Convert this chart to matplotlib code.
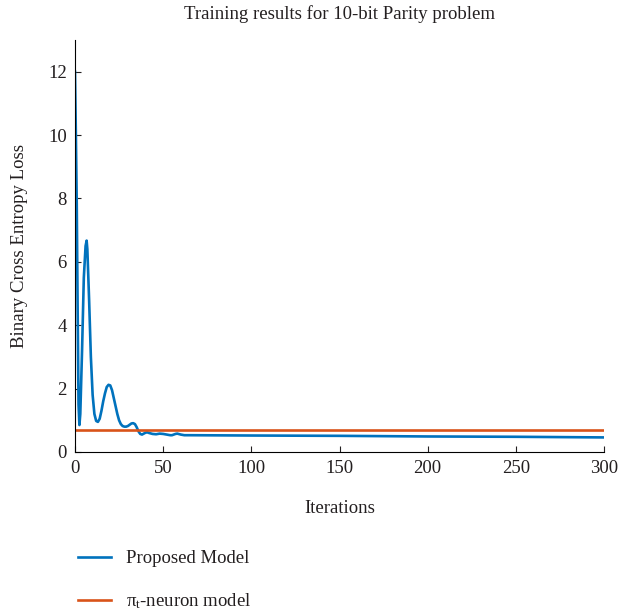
import numpy as np
import matplotlib
matplotlib.use('Agg')
import matplotlib.pyplot as plt

plt.rcParams['font.family'] = ['Liberation Serif', 'DejaVu Serif']
plt.rcParams['mathtext.fontset'] = 'custom'
plt.rcParams['mathtext.rm'] = 'Liberation Serif'
plt.rcParams['mathtext.it'] = 'Liberation Serif:italic'

iters = [0, 0.5, 1, 1.5, 2, 2.5, 3, 4, 5, 6, 6.6, 7, 8, 9, 10, 11, 12, 13, 14, 15,
         16, 17, 18, 19, 20, 21, 22, 23, 24, 25, 26, 27, 28, 29, 30, 31, 32, 33,
         34, 35, 36, 37, 38, 39, 40, 41, 42, 44, 46, 48, 50, 52, 54, 55, 57, 58,
         60, 62, 65, 100, 150, 200, 250, 300]
proposed = [12.0, 10.0, 7.8, 4.5, 1.5, 0.85, 1.2, 3.2, 5.5, 6.5, 6.67, 6.4, 4.8,
            3.0, 1.8, 1.2, 0.98, 0.95, 1.05, 1.3, 1.6, 1.85, 2.05, 2.12, 2.1,
            1.95, 1.7, 1.45, 1.2, 1.0, 0.88, 0.82, 0.8, 0.8, 0.82, 0.86, 0.9,
            0.91, 0.88, 0.78, 0.65, 0.57, 0.55, 0.58, 0.61, 0.62, 0.6, 0.57,
            0.56, 0.58, 0.57, 0.55, 0.53, 0.53, 0.57, 0.58, 0.55, 0.53, 0.53,
            0.52, 0.51, 0.49, 0.48, 0.46]
pi_t_iters = [0, 300]
pi_t_loss = [0.693, 0.693]

blue = '#0072BD'
orange = '#D95319'
txt = '#231f20'

fig = plt.figure(figsize=(6.21, 6.10), dpi=100)
ax = fig.add_axes([75/621, 158/610, 529/621, 412/610])

ax.plot(iters, proposed, color=blue, lw=1.9, label='Proposed Model')
ax.plot(pi_t_iters, pi_t_loss, color=orange, lw=1.9, label='π$_\\mathrm{t}$-neuron model')

ax.set_xlim(0, 300)
ax.set_ylim(0, 13.0)
ax.set_xticks(np.arange(0, 301, 50))
ax.set_yticks(np.arange(0, 13, 2))
ax.spines['top'].set_visible(False)
ax.spines['right'].set_visible(False)
ax.tick_params(direction='in', length=4.5, labelsize=13.5, colors=txt, pad=6)
ax.set_title('Training results for 10-bit Parity problem', fontsize=13.5, color=txt, pad=15)
ax.set_xlabel('Iterations', fontsize=13.5, color=txt, labelpad=16)
ax.set_ylabel('Binary Cross Entropy Loss', fontsize=13.5, color=txt, labelpad=14)

h, l = ax.get_legend_handles_labels()
fig.legend(h, l, loc='upper left', bbox_to_anchor=(78/621, 1 - 550/610), frameon=False,
           borderpad=0, borderaxespad=0,
           fontsize=13.5, handlelength=1.75, handletextpad=0.8, labelspacing=1.3,
           labelcolor=txt)

fig.savefig('out.png', dpi=100)
